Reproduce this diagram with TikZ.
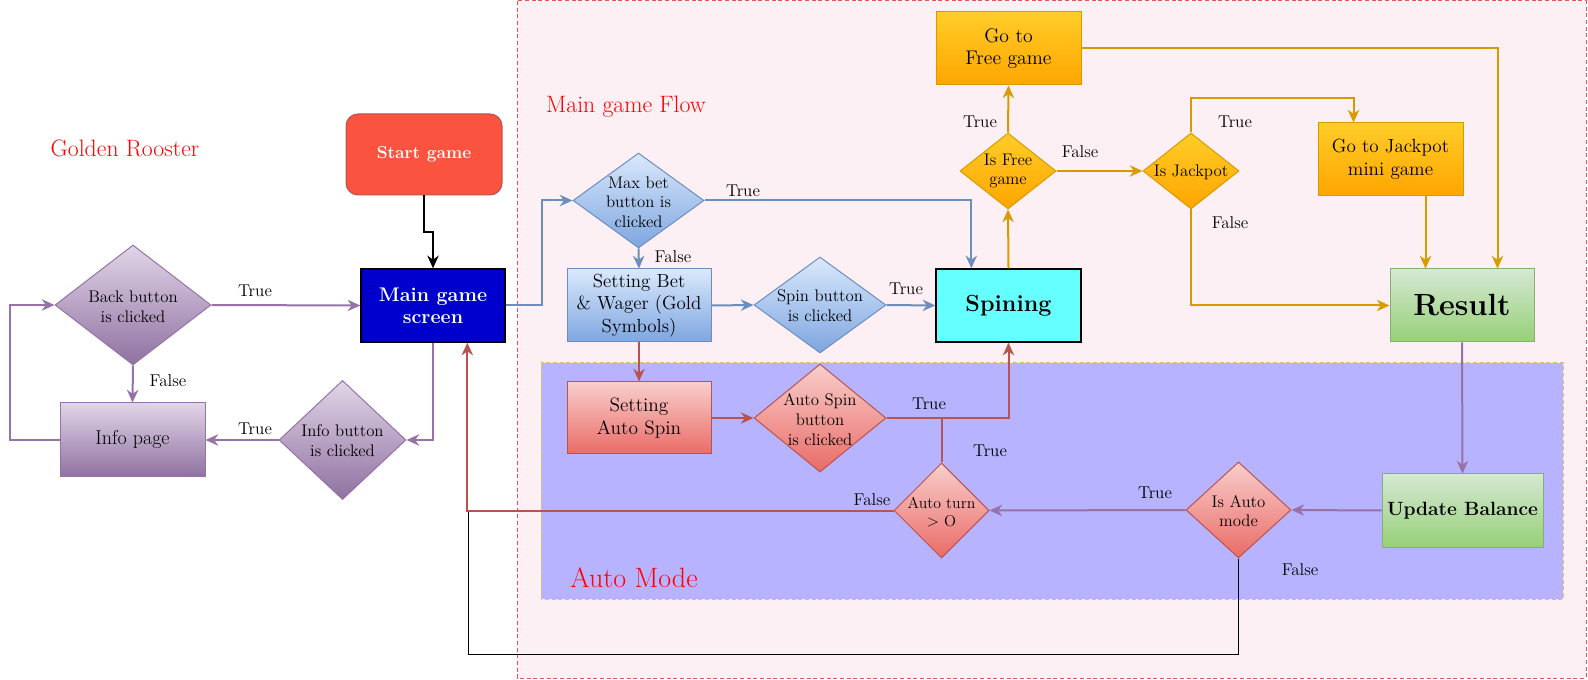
\documentclass[tikz,border=0pt]{standalone}
\usetikzlibrary{shapes.geometric,arrows.meta,calc}
\definecolor{purT}{HTML}{E1D5E7}
\definecolor{purB}{HTML}{8F71A1}
\definecolor{purD}{HTML}{9673A6}
\definecolor{bluT}{HTML}{DAE8FC}
\definecolor{bluB}{HTML}{7EA6E0}
\definecolor{bluD}{HTML}{6C8EBF}
\definecolor{redT}{HTML}{F8CECC}
\definecolor{redB}{HTML}{EA6B66}
\definecolor{redD}{HTML}{B85450}
\definecolor{orT}{HTML}{FFCD28}
\definecolor{orB}{HTML}{FFA500}
\definecolor{orD}{HTML}{D79B00}
\definecolor{grT}{HTML}{D5E8D4}
\definecolor{grB}{HTML}{97D077}
\definecolor{grD}{HTML}{82B366}
\definecolor{flowBg}{HTML}{FDF0F4}
\definecolor{flowBd}{HTML}{E05555}
\definecolor{autoBg}{HTML}{B8B3FF}
\definecolor{autoBd}{HTML}{E0C060}
\definecolor{startC}{HTML}{FA5340}
\definecolor{mainC}{HTML}{0000CC}
\definecolor{spinC}{HTML}{66FFFF}
\newcommand\myfs[2]{\fontsize{#1}{#2}\selectfont}
\begin{document}
\begin{tikzpicture}[x=0.75pt,y=-0.75pt,
  box/.style n args={2}{rectangle, draw, line width=0.75pt, minimum width=#1*0.75pt, minimum height=#2*0.75pt, inner sep=0pt, align=center},
  dia/.style n args={2}{diamond, draw, line width=0.75pt, minimum width=#1*0.75pt, minimum height=#2*0.75pt, inner sep=0pt},
  purp/.style={top color=purT, bottom color=purB, draw=purD},
  blu/.style={top color=bluT, bottom color=bluB, draw=bluD},
  redd/.style={top color=redT, bottom color=redB, draw=redD},
  ora/.style={top color=orT, bottom color=orB, draw=orD},
  gre/.style={top color=grT, bottom color=grB, draw=grD},
  dtext/.style={font=\myfs{12.6}{14.8}, align=center, inner sep=0pt},
  lbl/.style={font=\myfs{12.8}{14}, inner sep=0pt},
  ttl/.style={font=\myfs{17.8}{20}, text=red, inner sep=0pt},
  con/.style={line width=1.5pt, -{Stealth[length=9.5pt,width=8.5pt,inset=3pt]}},
  pcon/.style={con, draw=purD},
  bcon/.style={con, draw=bluD},
  rcon/.style={con, draw=redD},
  ocon/.style={con, draw=orD}
]
\useasboundingbox (0,0) rectangle (1588,680);
\fill[white] (0,0) rectangle (1588,680);
% regions
\draw[flowBd, fill=flowBg, dash pattern=on 3pt off 2pt, line width=0.75pt] (517,1) rectangle (1586,678);
\draw[autoBd, fill=autoBg, dash pattern=on 3pt off 2pt, line width=0.75pt] (541,363) rectangle (1563,599);
% titles
\node[ttl] (tgr) at (125,148) {Golden Rooster};
\node[ttl] (tflow) at (626,107) {Main game Flow};
\node[ttl, font=\myfs{21}{24}] (tauto) at (634,578) {Auto Mode};
% nodes
\node[box={156}{81}, rounded corners=9pt, fill=startC, draw=redD, text=white, font=\bfseries\myfs{13}{15}] (start) at (424,154.5) {Start game};
\node[box={144}{73}, fill=mainC, draw=black, line width=1pt, text=white, font=\bfseries\myfs{14.8}{16.5}] (main) at (433,305.5) {Main game\\screen};
\node[dia={156}{120}, purp] (back) at (133,305) {};
\node[dtext] (backt) at (133,307) {Back button\\is clicked};
\node[box={145}{74}, purp, font=\myfs{15}{17}] (info) at (132.5,440) {Info page};
\node[dia={127}{119}, purp] (infob) at (342.5,440) {};
\node[dtext] (infobt) at (342.5,441) {Info button\\is clicked};
\node[dia={131}{95}, blu] (maxbet) at (638.5,200.5) {};
\node[dtext] (maxbett) at (638.5,202) {Max bet\\button is\\clicked};
\node[box={144}{73}, blu, font=\myfs{14.2}{17}] (setbet) at (639,305.5) {Setting Bet\\\& Wager (Gold\\Symbols)};
\node[dia={132}{96}, blu] (spinb) at (820,305) {};
\node[dtext] (spinbt) at (820,306) {Spin button\\is clicked};
\node[box={145}{73}, fill=spinC, draw=black, line width=1pt, font=\bfseries\myfs{17.5}{20}] (spining) at (1008.5,305.5) {Spining};
\node[box={144}{72}, redd, font=\myfs{14.5}{16.8}] (autoset) at (639,418) {Setting\\Auto Spin};
\node[dia={132}{108}, redd] (autospin) at (820,418) {};
\node[dtext] (autospint) at (820,419.5) {Auto Spin\\button\\is clicked};
\node[dia={95}{95}, redd] (autoturn) at (941.5,510.5) {};
\node[dtext, font=\myfs{11.8}{13.8}] (autoturnt) at (941.5,512) {Auto turn\\$>$ O};
\node[dia={105}{96}, redd] (isauto) at (1238.5,510) {};
\node[dtext] (isautot) at (1238.5,511) {Is Auto\\mode};
\node[box={161}{73}, gre, font=\bfseries\myfs{14.4}{17}] (update) at (1462.5,510.5) {\raisebox{-3pt}{Update Balance}};
\node[box={144}{73}, gre, font=\bfseries\myfs{23}{26}] (result) at (1462,305.5) {Result};
\node[box={145}{73}, ora, font=\myfs{14.3}{17}] (gojack) at (1390.5,159.5) {Go to Jackpot\\mini game};
\node[box={145}{73}, ora, font=\myfs{14.8}{17}] (gofree) at (1008.5,48.5) {Go to\\Free game};
\node[dia={96}{76}, ora] (isfree) at (1008,171) {};
\node[dtext] (isfreet) at (1008,171) {Is Free\\game};
\node[dia={96}{76}, ora] (isjack) at (1191,171) {};
\node[dtext] (isjackt) at (1191,172) {Is Jackpot};
\coordinate (jb) at (468,654);
% connectors
\draw[line width=1.5pt, -{Stealth[length=9.5pt,width=8.5pt,inset=3pt]}] (start.south) -- ++(0,37) -| (main.north);
\draw[pcon] (back.east) -- (main.west);
\draw[pcon] (back.south) -- (info.north);
\draw[pcon] (info.west) -- ++(-50,0) |- (back.west);
\draw[pcon] (main.south) |- (infob.east);
\draw[pcon] (infob.west) -- (info.east);
\draw[bcon] (main.east) -- ++(36,0) |- (maxbet.west);
\draw[bcon] (maxbet.east) -| ($(spining.north west)+(36,0)$);
\draw[bcon] (maxbet.south) -- (setbet.north);
\draw[bcon] (setbet.east) -- (spinb.west);
\draw[bcon] (spinb.east) -- (spining.west);
\draw[rcon] (setbet.south) -- (autoset.north);
\draw[rcon] (autoset.east) -- (autospin.west);
\draw[rcon] (autospin.east) -| (spining.south);
\draw[line width=1.5pt, draw=redD] (autoturn.north) -- (autoturn.north |- autospin.east);
\draw[black, line width=0.75pt] (isauto.south) |- (jb) -- (jb |- autoturn.west);
\draw[rcon] (autoturn.west) -| ($(main.south west)+(107,0)$);
\draw[pcon] (isauto.west) -- (autoturn.east);
\draw[pcon] (update.west) -- (isauto.east);
\draw[pcon] (result.south) -- (update.north);
\draw[ocon] (spining.north) -- (isfree.south);
\draw[ocon] (isfree.north) -- (gofree.south);
\draw[ocon] (isfree.east) -- (isjack.west);
\draw[ocon] (isjack.north) -- ++(0,-34) -| ($(gojack.north west)+(36,0)$);
\draw[ocon] (isjack.south) |- (result.west);
\draw[ocon] (gofree.east) -| ($(result.north west)+(108,0)$);
\draw[ocon] ($(gojack.south west)+(108,0)$) -- ($(result.north west)+(36,0)$);
% edge labels
\node[lbl] (l1) at (255,291) {True};
\node[lbl] (l2) at (168,381) {False};
\node[lbl] (l3) at (255,429) {True};
\node[lbl] (l4) at (743,191) {True};
\node[lbl] (l5) at (673,257) {False};
\node[lbl] (l6) at (906,289) {True};
\node[lbl] (l7) at (929,404) {True};
\node[lbl] (l8) at (990,451) {True};
\node[lbl] (l9) at (872,500) {False};
\node[lbl] (l10) at (1155,493) {True};
\node[lbl] (l11) at (1300,570) {False};
\node[lbl] (l12) at (980,122) {True};
\node[lbl] (l13) at (1080,152) {False};
\node[lbl] (l14) at (1235,122) {True};
\node[lbl] (l15) at (1230,223) {False};
\end{tikzpicture}
\end{document}
